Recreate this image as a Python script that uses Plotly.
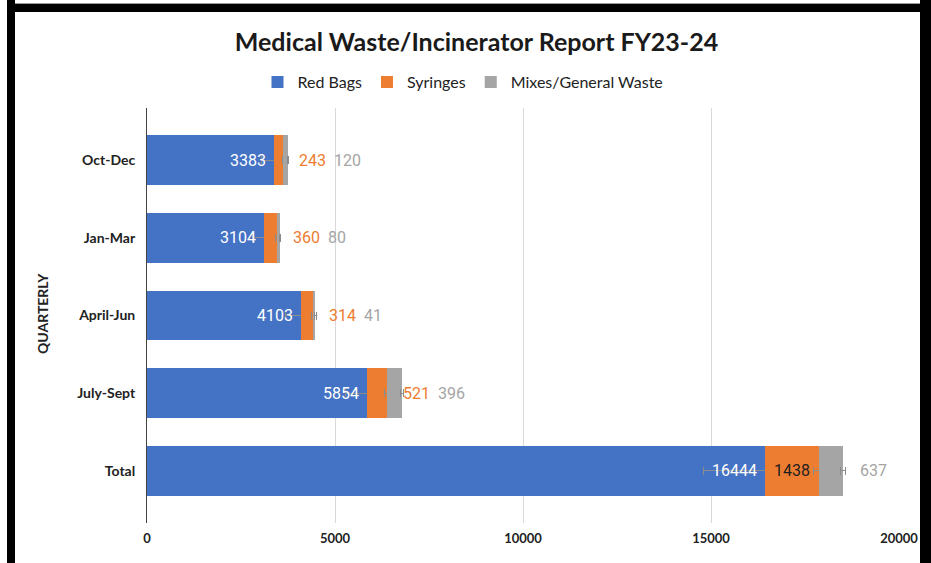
import plotly.graph_objects as go

categories = ["Oct-Dec", "Jan-Mar", "April-Jun", "July-Sept", "Total"]
red_bags = [3383, 3104, 4103, 5854, 16444]
syringes = [243, 360, 314, 521, 1438]
mixes = [120, 80, 41, 396, 637]
x_ticks = [0, 5000, 10000, 15000, 20000]

BLUE = "#4472C4"
ORANGE = "#ED7D31"
GREY = "#A5A5A5"
ERR = "#8c8c8c"

W, H = 931, 563
L, R, T, B = 147, 32, 108, 40
PW, PH = W - L - R, H - T - B


def px(xp):
    return (xp - L) / PW


def py(yp):
    return (H - B - yp) / PH


def err(vals):
    return [v * 0.1 for v in vals]


fig = go.Figure()
for name, vals, col in [("Red Bags", red_bags, BLUE), ("Syringes", syringes, ORANGE),
                        ("Mixes/General Waste", mixes, GREY)]:
    fig.add_trace(go.Bar(
        y=categories, x=vals, name=name, orientation="h",
        marker=dict(color=col, line=dict(width=0)),
        error_x=dict(type="data", array=err(vals), color=ERR, thickness=1, width=4),
    ))

ann = []
lab_font = dict(family="Roboto", size=16)
for i, c in enumerate(categories):
    r, s, m = red_bags[i], syringes[i], mixes[i]
    ann.append(dict(x=r, y=c, xref="x", yref="y", text=str(r), showarrow=False,
                    xanchor="right", xshift=-6, font=dict(lab_font, color="white")))
    if c == "Total":
        ann.append(dict(x=r + s / 2, y=c, xref="x", yref="y", text=str(s), showarrow=False,
                        xanchor="center", font=dict(lab_font, color="#1f1f1f")))
        ann.append(dict(x=r + s + m, y=c, xref="x", yref="y", text=str(m), showarrow=False,
                        xanchor="left", xshift=15, font=dict(lab_font, color=GREY)))
    else:
        txt = (f"<span style='color:{ORANGE}'>{s}</span>&nbsp;&nbsp;"
               f"<span style='color:{GREY}'>{m}</span>")
        ann.append(dict(x=r + s, y=c, xref="x", yref="y", text=txt, showarrow=False,
                        xanchor="left", xshift=14, font=lab_font))

ann.append(dict(x=px(42), y=py(314), xref="paper", yref="paper", text="QUARTERLY",
                textangle=-90, showarrow=False, xanchor="center", yanchor="middle",
                font=dict(family="Lato", size=14, color="#222", weight="bold")))

shapes = []
# black frame
shapes.append(dict(type="rect", xref="paper", yref="paper", x0=px(7), x1=px(15),
                   y0=py(H + 5), y1=py(0), fillcolor="black", line=dict(width=0), layer="above"))
shapes.append(dict(type="rect", xref="paper", yref="paper", x0=px(920), x1=px(W + 5),
                   y0=py(H + 5), y1=py(0), fillcolor="black", line=dict(width=0), layer="above"))
shapes.append(dict(type="rect", xref="paper", yref="paper", x0=px(7), x1=px(W + 5),
                   y0=py(12), y1=py(4), fillcolor="black", line=dict(width=0), layer="above"))
shapes.append(dict(type="line", xref="paper", yref="paper", x0=px(15), x1=px(920),
                   y0=py(3.5), y1=py(3.5), line=dict(color="#9a9a9a", width=1), layer="above"))

fig.update_layout(
    width=W, height=H,
    margin=dict(l=L, r=R, t=T, b=B, autoexpand=False),
    paper_bgcolor="white", plot_bgcolor="white",
    barmode="stack", bargap=0.357,
    title=dict(text="<b>Medical Waste/Incinerator Report FY23-24</b>", x=476.5 / W, y=1 - 42 / H,
               xanchor="center", yanchor="middle",
               font=dict(family="Lato", size=25, color="#1a1a1a")),
    legend=dict(orientation="h", x=px(463), y=py(82), xanchor="center", yanchor="middle",
                font=dict(family="Lato", size=16, color="#222"), traceorder="normal",
                itemwidth=30, bgcolor="rgba(0,0,0,0)"),
    xaxis=dict(range=[0, 20000], tickvals=x_ticks, ticktext=[str(v) for v in x_ticks],
               showgrid=True, gridcolor="#d9d9d9", gridwidth=1, zeroline=False,
               showline=False, ticks="", ticklabelstandoff=6,
               tickfont=dict(family="Lato", size=13, color="#222", weight="bold")),
    yaxis=dict(categoryorder="array", categoryarray=categories, range=[4.67, -0.67],
               showgrid=False, zeroline=False, showline=True, linecolor="#444", linewidth=1,
               ticks="", ticklabelstandoff=8,
               tickfont=dict(family="Lato", size=14, color="#222", weight="bold")),
    annotations=ann, shapes=shapes,
    showlegend=True,
)

fig.write_html("out.html", config={"displayModeBar": False},
               post_script="document.body.style.margin='0';document.body.style.overflow='hidden';")
